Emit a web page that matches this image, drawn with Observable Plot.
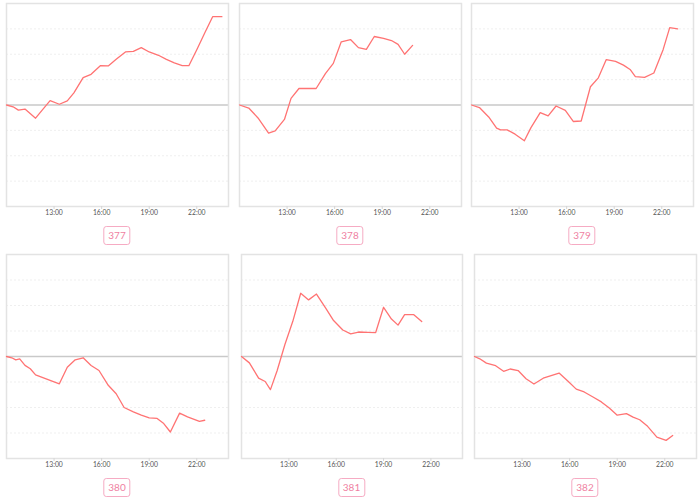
<!DOCTYPE html>
<html><head><meta charset="utf-8">
<script src="https://cdn.jsdelivr.net/npm/d3@7"></script>
<script src="https://cdn.jsdelivr.net/npm/@observablehq/plot@0.6"></script>
<style>
body{margin:0;background:#fff;font-family:Lato,"Noto Sans",sans-serif;}
#root{position:relative;width:700px;height:502px;overflow:hidden;background:#fff;}
.panel{position:absolute;}
.panel svg{display:block;overflow:visible;}
.tag{position:absolute;box-sizing:border-box;height:19px;line-height:17px;padding:0 4px;border:1px solid #f6abc3;border-radius:3px;color:#ef7fa2;font-size:10px;font-family:Lato,sans-serif;text-align:center;transform:translateX(-50%);background:#fff;}
</style></head><body><div id="root"></div>
<script>
// ---- data ----
const panelIds = ["377", "378", "379", "380", "381", "382"];
const xTickLabels = ["13:00", "16:00", "19:00", "22:00"];
const xDomainLabels = ["10:00", "24:00"];
const yDomain = [-4, 4];
const yGridValues = [-3, -2, -1, 1, 2, 3];

const times377 = ["10:00","10:25","10:45","11:10","11:50","12:15","12:45","13:20","13:50","14:15","14:50","15:20","15:55","16:25","16:55","17:30","18:00","18:30","19:00","19:35","20:05","20:35","21:05","21:30","22:00","22:30","23:00","23:35"];
const values377 = [0,-0.07,-0.2,-0.16,-0.52,-0.2,0.17,0.03,0.16,0.48,1.08,1.21,1.55,1.54,1.8,2.09,2.11,2.26,2.09,1.96,1.8,1.66,1.55,1.55,2.18,2.84,3.48,3.48];

const times378 = ["10:00","10:35","11:10","11:50","12:15","12:50","13:15","13:45","14:20","14:50","15:25","15:55","16:25","17:00","17:30","18:00","18:30","19:05","19:35","20:00","20:25","20:55"];
const values378 = [0,-0.12,-0.51,-1.11,-1.02,-0.57,0.26,0.65,0.65,0.65,1.24,1.64,2.49,2.58,2.26,2.19,2.7,2.63,2.54,2.39,2.0,2.35];

const times379 = ["10:00","10:30","11:05","11:35","11:50","12:15","12:45","13:20","13:45","14:20","14:50","15:20","15:55","16:25","16:55","17:30","18:00","18:30","19:05","19:35","20:00","20:20","20:55","21:30","22:05","22:30","23:00"];
const values379 = [0,-0.1,-0.47,-0.91,-0.98,-0.98,-1.15,-1.41,-0.89,-0.3,-0.43,-0.04,-0.21,-0.65,-0.63,0.72,1.07,1.79,1.72,1.57,1.4,1.12,1.09,1.26,2.18,3.05,3.0];

const times380 = ["10:00","10:20","10:35","10:50","11:10","11:30","11:50","13:20","13:50","14:20","14:50","15:20","15:50","16:25","16:55","17:25","18:00","18:30","19:00","19:30","19:55","20:20","20:55","21:25","22:10","22:30"];
const values380 = [0,-0.05,-0.13,-0.09,-0.35,-0.48,-0.72,-1.07,-0.42,-0.13,-0.05,-0.35,-0.55,-1.13,-1.46,-2.0,-2.17,-2.3,-2.41,-2.43,-2.63,-2.96,-2.22,-2.37,-2.54,-2.5];

const times381 = ["10:00","10:30","11:05","11:30","11:50","12:15","12:45","13:15","13:45","14:15","14:45","15:20","15:50","16:25","16:55","17:25","18:00","18:30","19:00","19:30","19:55","20:20","20:55","21:25"];
const values381 = [0,-0.25,-0.85,-0.98,-1.3,-0.57,0.47,1.38,2.48,2.22,2.45,1.9,1.41,1.04,0.89,0.96,0.95,0.94,1.93,1.47,1.23,1.64,1.64,1.37];

const times382 = ["10:00","10:20","10:45","11:20","11:50","12:15","12:45","13:15","13:45","14:20","14:50","15:20","15:55","16:25","16:55","17:30","18:00","18:30","19:00","19:35","20:00","20:25","20:55","21:30","22:05","22:30"];
const values382 = [0,-0.09,-0.26,-0.36,-0.58,-0.49,-0.55,-0.87,-1.08,-0.85,-0.75,-0.65,-0.98,-1.28,-1.39,-1.6,-1.78,-2.02,-2.3,-2.24,-2.38,-2.48,-2.74,-3.16,-3.29,-3.1];

// ---- build ----
const toHours = s => { const [h, m] = s.split(":").map(Number); return h + m / 60; };
const seriesTimes = [times377, times378, times379, times380, times381, times382];
const seriesValues = [values377, values378, values379, values380, values381, values382];

// frame boxes in page pixels (layout, not data)
const layout = [
  {left: 6, top: 3, w: 222, h: 203},
  {left: 239, top: 3, w: 222, h: 203},
  {left: 471, top: 3, w: 222, h: 203},
  {left: 6, top: 254, w: 222, h: 204},
  {left: 241, top: 254, w: 221, h: 204},
  {left: 474, top: 254, w: 222, h: 204}
];

const tickHours = xTickLabels.map(toHours);
const xDomain = xDomainLabels.map(toHours);
const root = document.getElementById("root");

panelIds.forEach((id, i) => {
  const L = layout[i];
  const rows = seriesTimes[i].map((t, k) => ({x: toHours(t), y: seriesValues[i][k]}));
  const plot = Plot.plot({
    width: L.w + 2,
    height: L.h + 2 + 16,
    marginLeft: 1, marginRight: 1, marginTop: 1, marginBottom: 17,
    style: {fontFamily: "Lato, sans-serif", background: "transparent", overflow: "visible"},
    x: {domain: xDomain, label: null},
    y: {domain: yDomain, axis: null},
    marks: [
      Plot.gridY(yGridValues, {stroke: "#efefef", strokeOpacity: 1, strokeDasharray: "2,2"}),
      Plot.ruleY([0], {stroke: "#c9c9c9", strokeWidth: 1.3}),
      Plot.frame({stroke: "#e3e3e3", strokeWidth: 1.5}),
      Plot.line(rows, {x: "x", y: "y", stroke: "#ff7373", strokeWidth: 1.3}),
      Plot.axisX(tickHours, {
        tickFormat: d => xTickLabels[tickHours.indexOf(d)],
        tickSize: 3, tickPadding: 1, fontSize: 6.8, label: null,
        stroke: "#d6d6d6", fill: "#555"
      })
    ]
  });
  const div = document.createElement("div");
  div.className = "panel";
  div.style.left = (L.left - 1) + "px";
  div.style.top = (L.top - 1) + "px";
  div.appendChild(plot);
  root.appendChild(div);

  const tag = document.createElement("div");
  tag.className = "tag";
  tag.textContent = id;
  tag.style.left = (L.left + L.w / 2) + "px";
  tag.style.top = (L.top + L.h + 20) + "px";
  root.appendChild(tag);
});
</script>
</body></html>
